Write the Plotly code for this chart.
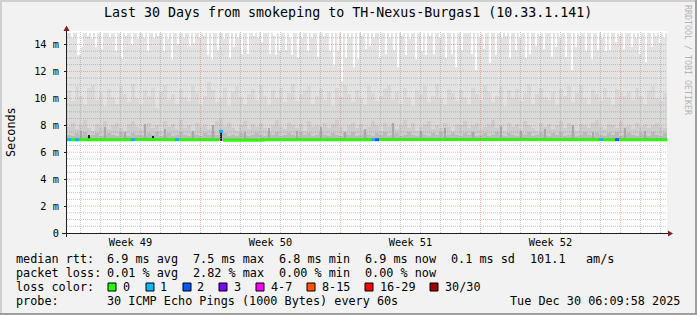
import pandas as pd
import plotly.graph_objects as go

# ---------------- data ----------------
T0 = pd.Timestamp("2025-11-30 07:48:00")
T1 = T0 + pd.Timedelta(days=30)

# smoke: per-column upper envelope (ms), 300 columns of 0.1 day
smoke_max_ms = [
    14.85,14.85,14.5,14.85,14.85,13.2,13.2,13.8,14.85,14.85,14.6,14.85,14.4,14.85,13.8,14.85,14.85,13.7,14.85,14.85,
    14.85,14.5,14.85,14.85,13.5,14.85,14.85,12.9,14.85,14.6,14.85,14.85,14.0,14.85,14.85,14.4,14.85,14.85,14.5,14.85,
    13.5,14.85,14.85,14.5,14.85,14.6,14.85,14.85,13.5,14.85,14.4,14.85,12.9,14.85,14.85,14.0,14.85,14.85,14.5,14.85,
    14.85,13.9,14.85,14.1,14.85,14.85,14.5,14.85,14.6,14.85,13.2,14.85,12.9,14.85,14.85,13.6,14.85,14.85,14.4,14.85,
    14.85,13.0,14.85,13.8,14.85,14.5,14.85,13.3,14.85,14.85,13.3,14.85,14.85,14.6,14.85,14.5,14.85,14.2,14.85,14.85,
    14.85,13.3,14.85,14.6,13.2,14.85,13.5,14.85,14.85,13.6,14.85,14.5,13.2,14.85,14.85,13.0,14.85,14.5,14.85,14.85,
    13.5,14.85,14.5,14.85,14.85,13.1,14.85,14.85,14.6,14.85,14.85,13.5,14.85,12.5,14.85,13.5,14.85,11.3,14.85,13.0,
    14.85,14.5,14.85,12.3,14.85,12.9,14.85,14.6,14.85,13.7,14.85,13.9,14.85,14.5,14.85,14.85,13.0,14.85,14.85,13.3,
    14.85,14.5,14.85,13.6,14.85,12.3,14.85,14.6,14.85,13.2,14.85,14.4,14.85,14.85,12.9,14.85,14.85,13.5,14.85,13.2,
    14.85,14.6,14.85,13.3,14.85,14.85,14.5,14.85,14.85,13.0,14.85,14.85,13.3,14.85,12.3,14.85,14.85,13.6,14.85,14.85,
    14.85,14.85,13.3,14.85,12.1,14.85,14.5,14.85,13.7,14.85,14.85,12.6,14.85,14.85,13.2,14.85,14.85,14.5,14.85,14.6,
    14.85,13.0,14.85,14.85,13.6,14.85,14.5,14.85,14.85,13.0,14.85,13.3,14.85,14.85,13.9,14.85,14.6,14.85,13.7,14.85,
    14.85,14.85,13.1,14.85,13.8,14.85,14.5,14.85,14.85,13.1,14.85,14.85,12.1,14.85,13.8,14.85,14.6,14.85,14.85,13.5,
    14.85,14.85,12.9,14.85,14.85,13.6,14.85,14.5,14.85,13.5,14.85,13.6,14.85,14.85,14.2,14.85,14.6,14.85,13.7,14.85,
    14.85,14.85,13.8,14.85,14.5,14.85,13.3,14.85,14.85,12.7,14.85,14.85,13.8,14.85,14.6,14.85,14.1,14.85,14.5,14.85,
]

# 150 columns of 0.2 day
smoke_upper_ms = [
    10.6,9.8,10.9,10.2,9.5,10.8,11.0,9.9,10.4,9.4,10.7,10.1,9.6,10.9,10.3,9.7,11.1,10.0,9.5,10.6,
    10.2,10.8,9.3,10.5,11.0,9.9,10.3,9.6,10.7,10.1,9.8,10.9,10.4,9.5,10.2,11.2,10.6,9.7,10.0,10.8,
    9.4,10.5,10.9,10.1,9.6,10.3,10.7,9.9,11.0,10.2,9.5,10.6,10.0,10.8,9.7,10.4,11.1,9.8,10.3,10.6,
    10.9,9.6,10.2,10.7,9.9,10.5,9.4,10.8,10.1,11.0,10.3,9.7,10.6,10.0,9.5,10.9,10.4,9.8,10.2,10.7,
    11.0,9.9,10.5,9.6,10.8,10.1,9.4,10.6,10.3,10.9,9.7,10.2,11.1,10.0,9.5,10.7,10.4,9.8,10.6,10.1,
    9.6,10.8,10.3,9.9,11.0,10.5,9.7,10.2,10.9,9.4,10.6,10.0,10.7,9.8,10.4,11.1,9.6,10.3,10.8,10.1,
    9.9,10.5,9.5,10.7,10.2,10.9,9.7,10.4,11.0,10.0,9.6,10.6,10.3,9.8,10.8,10.1,9.5,10.7,10.4,10.2,
    10.5,9.9,10.8,10.2,9.6,10.6,10.9,10.0,9.8,10.4,
]

smoke_lower_ms = [
    7.9,8.2,7.7,8.0,8.4,7.8,7.6,8.1,7.9,8.3,7.7,8.0,8.2,7.8,7.6,8.1,8.3,7.9,7.7,8.0,
    8.2,7.8,8.0,7.6,8.3,7.9,8.1,7.7,8.4,7.8,8.0,7.6,8.2,7.9,8.1,7.7,8.0,8.3,8.5,7.9,
    8.2,7.8,7.6,8.0,8.3,7.7,8.1,7.9,8.2,7.8,7.6,8.0,8.4,7.9,7.7,8.2,8.0,7.8,8.1,7.6,
    8.3,7.9,8.0,7.7,8.2,7.8,8.1,8.4,7.9,7.6,8.0,8.2,7.8,8.1,7.7,7.9,8.3,8.0,7.6,8.2,
    7.9,8.1,7.7,8.0,8.4,7.8,8.2,7.6,7.9,8.1,8.3,7.7,8.0,7.8,8.2,7.9,7.6,8.1,8.0,8.3,
    7.8,8.0,8.2,7.7,7.9,8.1,8.4,7.8,8.0,7.6,8.2,7.9,8.1,7.7,8.3,8.0,7.8,7.6,8.2,7.9,
    8.1,7.7,8.0,8.3,7.8,8.2,7.9,7.6,8.1,8.0,7.8,8.2,8.4,7.9,7.7,8.1,8.0,7.8,8.3,7.9,
    8.0,7.7,8.2,7.9,8.1,7.8,8.0,8.2,7.9,7.8,
]

smoke_core_ms = [
    7.3,7.2,7.4,7.3,7.5,7.2,7.3,7.4,7.2,7.3,7.4,7.3,7.2,7.5,7.3,7.2,7.4,7.3,7.3,7.2,
    7.4,7.3,7.5,7.2,7.3,7.4,7.2,7.3,7.5,7.3,7.2,7.4,7.3,7.2,7.4,7.3,7.5,7.3,7.6,7.4,
    7.2,7.3,7.2,7.4,7.3,7.2,7.3,7.4,7.3,7.2,7.4,7.3,7.5,7.2,7.3,7.4,7.3,7.2,7.5,7.3,
    7.4,7.2,7.3,7.5,7.3,7.2,7.4,7.3,7.2,7.4,7.3,7.5,7.2,7.3,7.4,7.3,7.2,7.4,7.3,7.5,
    7.2,7.3,7.4,7.2,7.3,7.5,7.3,7.2,7.4,7.3,7.2,7.4,7.3,7.5,7.2,7.3,7.4,7.3,7.2,7.4,
    7.3,7.5,7.2,7.3,7.4,7.2,7.3,7.5,7.3,7.2,7.4,7.3,7.2,7.4,7.3,7.5,7.2,7.3,7.4,7.3,
    7.2,7.4,7.3,7.5,7.2,7.3,7.4,7.2,7.3,7.5,7.3,7.2,7.4,7.3,7.2,7.4,7.3,7.5,7.2,7.3,
    7.4,7.3,7.2,7.4,7.3,7.2,7.5,7.3,7.2,7.4,
]

# dark streaks (index into the 150 coarse columns) and their tops (ms)
streak_idx = [3, 9, 14, 19, 24, 31, 36, 44, 50, 57, 63, 69, 74, 81, 88, 94, 101, 108, 113, 119, 126, 131, 139, 144]
streak_top = [7.6, 7.9, 7.5, 8.1, 7.7, 7.6, 8.0, 7.5, 7.8, 7.6, 7.9, 7.5, 7.7, 8.2, 7.6, 7.8, 7.5, 7.9, 7.6, 7.7, 8.0, 7.5, 7.8, 7.6]
black_idx = [5, 21, 38]
black_top = [7.25, 7.2, 7.55]

# median rtt (ms) and loss count per coarse column
median_ms = [
    6.93,6.93,6.92,6.93,6.94,6.93,6.93,6.92,6.93,6.93,6.94,6.93,6.93,6.92,6.93,6.93,6.93,6.94,6.93,6.93,
    6.92,6.93,6.93,6.93,6.94,6.93,6.92,6.93,6.93,6.93,6.94,6.93,6.93,6.92,6.93,6.93,6.93,6.93,7.55,6.88,
    6.86,6.87,6.86,6.87,6.86,6.88,6.87,6.86,6.88,6.92,6.93,6.93,6.94,6.93,6.93,6.92,6.93,6.93,6.94,6.93,
    6.93,6.93,6.92,6.93,6.94,6.93,6.93,6.93,6.92,6.93,6.94,6.93,6.93,6.93,6.92,6.93,6.93,6.93,6.94,6.93,
    6.93,6.92,6.93,6.93,6.94,6.93,6.93,6.93,6.92,6.93,6.93,6.94,6.93,6.93,6.92,6.93,6.93,6.93,6.94,6.93,
    6.93,6.92,6.93,6.93,6.93,6.94,6.93,6.93,6.92,6.93,6.93,6.93,6.94,6.93,6.93,6.92,6.93,6.93,6.93,6.94,
    6.93,6.93,6.92,6.93,6.93,6.93,6.94,6.93,6.93,6.92,6.93,6.93,6.93,6.94,6.93,6.93,6.92,6.93,6.93,6.93,
    6.94,6.93,6.93,6.92,6.93,6.93,6.93,6.94,6.93,6.93,
]
loss_count = [0] * 150
for _i, _c in [(0, 1), (2, 1), (16, 1), (27, 1), (38, 1), (76, 1), (77, 2), (133, 1), (137, 2)]:
    loss_count[_i] = _c

loss_labels = ["0", "1", "2", "3", "4-7", "8-15", "16-29", "30/30"]
loss_colors = ["#26ff00", "#00b8ff", "#0059ff", "#7e00ff", "#ff00ff", "#ff5500", "#ff0000", "#a10000"]

week_labels = ["Week 49", "Week 50", "Week 51", "Week 52"]
week_mid = ["2025-12-03 12:00", "2025-12-10 12:00", "2025-12-17 12:00", "2025-12-24 12:00"]
week_start = ["2025-12-07", "2025-12-14", "2025-12-21", "2025-12-28"]
y_tick_vals = [0, 2, 4, 6, 8, 10, 12, 14]
y_tick_text = ["0", "2 m", "4 m", "6 m", "8 m", "10 m", "12 m", "14 m"]

rtt_stats = ["6.9 ms avg", "7.5 ms max", "6.8 ms min", "6.9 ms now", "0.1 ms sd", "101.1", "am/s"]
loss_stats = ["0.01 % avg", "2.82 % max", "0.00 % min", "0.00 % now"]
probe_text = "30 ICMP Echo Pings (1000 Bytes) every 60s"
stamp_text = "Tue Dec 30 06:09:58 2025"
title_text = "Last 30 Days from smokeping to TH-Nexus-Burgas1 (10.33.1.141)"

# ---------------- figure ----------------
W, H = 697, 315
L, R, T, B = 67, 667, 31, 233
MONO = "DejaVu Sans Mono"
BASE = 6.85

def PX(x):
    return (x - L) / (R - L)

def PY(y):
    return (B - y) / (B - T)

fine_step = pd.Timedelta(minutes=144)
coarse_step = pd.Timedelta(minutes=288)
fine_left = pd.date_range(T0, periods=len(smoke_max_ms), freq=fine_step)
coarse_left = pd.date_range(T0, periods=len(smoke_upper_ms), freq=coarse_step)
fine_mid = fine_left + fine_step / 2
coarse_mid = coarse_left + coarse_step / 2
ms = lambda td: td.total_seconds() * 1000

fig = go.Figure()

def smoke(x, tops, width, color):
    fig.add_trace(go.Bar(
        x=list(x), y=[t - BASE for t in tops], base=BASE, width=width,
        marker=dict(color=color, line=dict(width=0)), hoverinfo="skip", showlegend=False))

smoke(fine_mid, smoke_max_ms, ms(fine_step), "#e3e3e3")
smoke(coarse_mid, smoke_upper_ms, ms(coarse_step), "#d9d9d9")
smoke(coarse_mid, smoke_lower_ms, ms(coarse_step), "#cdcdcd")
smoke(coarse_mid, smoke_core_ms, ms(coarse_step), "#bababa")
smoke([coarse_mid[i] for i in streak_idx], streak_top, ms(coarse_step) / 6, "#a9a9a9")
smoke([coarse_mid[i] for i in black_idx], black_top, ms(coarse_step) / 3, "#202020")

# median line, coloured by loss
for c, col in enumerate(loss_colors):
    xs, ys = [], []
    prev = False
    for i, m in enumerate(median_ms):
        if loss_count[i] == c:
            xs.append(coarse_left[i]); ys.append(m)
            xs.append(coarse_left[i] + coarse_step); ys.append(m)
            prev = True
        else:
            if prev:
                xs.append(None); ys.append(None)
            prev = False
    if xs:
        fig.add_trace(go.Scatter(x=xs, y=ys, mode="lines", line=dict(color=col, width=3),
                                 hoverinfo="skip", showlegend=False, connectgaps=False))

shapes = []
GRID = "rgba(143,143,143,0.5)"
MGRID = "rgba(222,79,79,0.42)"
DOT = "1px,1px"
# horizontal grid
for k in range(1, 30):
    v = k * 0.5
    major = (v % 2 == 0)
    shapes.append(dict(type="line", xref="paper", yref="y", x0=0, x1=1, y0=v, y1=v, layer="above",
                       line=dict(color=MGRID if major else GRID, width=1, dash=DOT)))
# vertical grid
day_lines = pd.date_range("2025-12-01", "2025-12-30", freq="D")
wk = set(pd.to_datetime(week_start))
for d in day_lines:
    major = d in wk
    shapes.append(dict(type="line", xref="x", yref="paper", x0=d, x1=d, y0=0, y1=1, layer="above",
                       line=dict(color=MGRID if major else GRID, width=1, dash=DOT)))
# axes and arrows
shapes.append(dict(type="line", xref="paper", yref="paper", x0=PX(62), x1=PX(669), y0=PY(233.5), y1=PY(233.5),
                   layer="above", line=dict(color="#1f1f1f", width=1)))
shapes.append(dict(type="line", xref="paper", yref="paper", x0=PX(66.5), x1=PX(66.5), y0=PY(237), y1=PY(29),
                   layer="above", line=dict(color="#1f1f1f", width=1)))
shapes.append(dict(type="path", xref="paper", yref="paper", layer="above",
                   path=f"M {PX(668)} {PY(230.5)} L {PX(673)} {PY(233.5)} L {PX(668)} {PY(236.5)} Z",
                   fillcolor="#801f1f", line=dict(width=0)))
shapes.append(dict(type="path", xref="paper", yref="paper", layer="above",
                   path=f"M {PX(63.5)} {PY(31)} L {PX(66.5)} {PY(25.5)} L {PX(69.5)} {PY(31)} Z",
                   fillcolor="#801f1f", line=dict(width=0)))
# frame shading
shapes.append(dict(type="rect", xref="paper", yref="paper", x0=PX(0), x1=PX(W), y0=PY(0), y1=PY(2),
                   fillcolor="#cfcfcf", line=dict(width=0), layer="above"))
shapes.append(dict(type="rect", xref="paper", yref="paper", x0=PX(0), x1=PX(2), y0=PY(0), y1=PY(H),
                   fillcolor="#cfcfcf", line=dict(width=0), layer="above"))
shapes.append(dict(type="rect", xref="paper", yref="paper", x0=PX(0), x1=PX(W), y0=PY(H - 2), y1=PY(H),
                   fillcolor="#9e9e9e", line=dict(width=0), layer="above"))
shapes.append(dict(type="rect", xref="paper", yref="paper", x0=PX(W - 2), x1=PX(W), y0=PY(0), y1=PY(H),
                   fillcolor="#9e9e9e", line=dict(width=0), layer="above"))

# legend swatches
sw_x = [108, 146, 183, 219, 256, 307, 365, 430]
for x, col in zip(sw_x, loss_colors):
    shapes.append(dict(type="rect", xref="paper", yref="paper", x0=PX(x), x1=PX(x + 8),
                       y0=PY(283), y1=PY(291), fillcolor=col, line=dict(color="black", width=1), layer="above"))

FS = 11.8
ann = []
def text(x, y, s, size=FS, anchor="left", color="black", angle=0, yanchor="middle"):
    ann.append(dict(x=PX(x), y=PY(y), xref="paper", yref="paper", text=s, showarrow=False,
                    xanchor=anchor, yanchor=yanchor, textangle=angle, borderpad=0,
                    font=dict(family=MONO, size=size, color=color)))

text(348, 13, title_text, size=13.3, anchor="center")
text(11, 132, "Seconds", size=FS, anchor="center", angle=-90)
text(688, 60, "RRDTOOL / TOBI OETIKER", size=8.3, anchor="center", color="#b4b4b4", angle=90)

row1_x = [106, 192, 278, 364, 450, 529, 585]
text(15, 259, "median rtt:")
for x, s in zip(row1_x, rtt_stats):
    text(x, 259, s)
text(15, 273, "packet loss:")
for x, s in zip(row1_x, loss_stats):
    text(x, 273, s)
text(15, 287, "loss color:")
lab_x = [122, 159, 196, 233, 270, 321, 379, 444]
for x, s in zip(lab_x, loss_labels):
    text(x, 287, s)
text(15, 301, "probe:")
text(106, 301, probe_text)
text(681, 301, stamp_text, anchor="right")

fig.update_layout(
    width=W, height=H,
    margin=dict(l=L, r=W - R, t=T, b=H - B, pad=0),
    paper_bgcolor="#f2f2f2", plot_bgcolor="#ffffff",
    barmode="overlay", bargap=0, showlegend=False,
    shapes=shapes, annotations=ann,
    xaxis=dict(type="date", range=[T0, T1], showgrid=False, zeroline=False, showline=False,
               tickvals=week_mid, ticktext=week_labels, ticks="", ticklabelstandoff=2,
               tickfont=dict(family=MONO, size=10.3, color="black"), fixedrange=True),
    yaxis=dict(range=[0, 15], showgrid=False, zeroline=False, showline=False,
               tickvals=y_tick_vals, ticktext=y_tick_text, ticks="outside", ticklen=2,
               tickcolor="#1f1f1f", ticklabelstandoff=3,
               tickfont=dict(family=MONO, size=10.3, color="black"), fixedrange=True),
)

fig.write_html("out.html", config={"displayModeBar": False})
